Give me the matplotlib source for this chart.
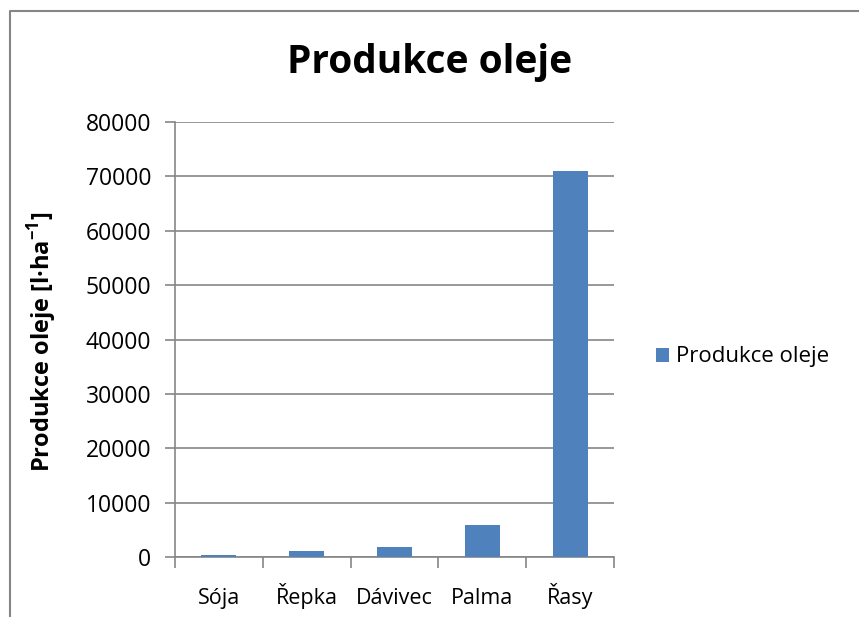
import matplotlib as mpl
mpl.use('Agg')
import matplotlib.pyplot as plt
from matplotlib.lines import Line2D

plt.rcParams['font.family'] = ['Open Sans', 'DejaVu Sans']

plodiny = ['Sója', 'Řepka', 'Dávivec', 'Palma', 'Řasy']
produkce = [446, 1190, 1892, 5950, 70900]
y_ticks = [0, 10000, 20000, 30000, 40000, 50000, 60000, 70000, 80000]

barva = '#4f81bd'
seda = '#868686'

fig = plt.figure(figsize=(8.59, 6.17), dpi=100)
ax = fig.add_axes([0.2037, 0.0972, 0.5111, 0.7051])

x = range(len(plodiny))
ax.bar(x, produkce, width=0.4, color=barva, zorder=3, label='Produkce oleje')

ax.set_xlim(-0.5, len(plodiny) - 0.5)
ax.set_ylim(0, 80000)
ax.set_yticks(y_ticks)
ax.set_yticklabels([str(v) for v in y_ticks], fontsize=16.5)
ax.yaxis.grid(True, color=seda, linewidth=1.2, zorder=0)

# popisky kategorii bez ticku, ticky na hranicich kategorii
ax.set_xticks(list(x))
ax.set_xticklabels(plodiny, fontsize=15.5, va='baseline')
ax.tick_params(axis='x', length=0, pad=34)
ax.set_xticks([i - 0.5 for i in range(len(plodiny) + 1)], minor=True)
ax.tick_params(axis='x', which='minor', length=8, width=1.2, color=seda)
ax.tick_params(axis='y', length=7, width=1.2, color=seda, pad=10)

for s in ['top', 'right']:
    ax.spines[s].set_visible(False)
for s in ['left', 'bottom']:
    ax.spines[s].set_color(seda)
    ax.spines[s].set_linewidth(1.2)

ax.set_ylabel('Produkce oleje [l·ha$^{\\mathregular{-1}}$]', fontsize=17,
              fontweight='bold')
ax.yaxis.set_label_coords(-0.265, 0.494)
fig.text(0.5, 1 - 63 / 617, 'Produkce oleje', fontsize=28, fontweight='bold',
         ha='center', va='center')

ax.legend(loc='center left', bbox_to_anchor=(1.05, 0.46), frameon=False,
          fontsize=16, handlelength=0.6, handleheight=0.6, handletextpad=0.3)

# ramecek grafu
fig.add_artist(Line2D([10 / 859, 10 / 859, 1], [0, 1 - 10.5 / 617, 1 - 10.5 / 617],
                      color=seda, linewidth=1.5, transform=fig.transFigure))

fig.savefig('out.png', dpi=100)
